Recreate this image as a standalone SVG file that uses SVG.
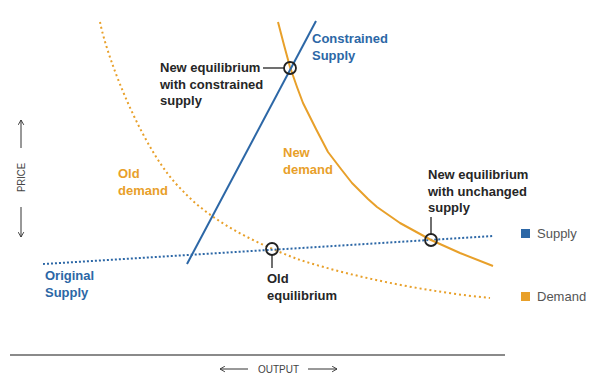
<svg xmlns="http://www.w3.org/2000/svg" width="599" height="390" viewBox="0 0 599 390">
<defs>
<style>
.lbl{font-family:"Liberation Sans",Arial,sans-serif;font-weight:bold;font-size:13px}
.dark{fill:#262626}
.blue{fill:#2c67a6}
.orange{fill:#e8a02a}
.leg{font-family:"Liberation Sans",Arial,sans-serif;font-size:13px;fill:#555}
.ax{font-family:"Liberation Sans",Arial,sans-serif;font-size:11px;fill:#444}
.ring{fill:none;stroke:#222;stroke-width:1.8}
.tick{stroke:#222;stroke-width:1.3;fill:none}
.arr{stroke:#333;stroke-width:1;fill:none}
</style>
<marker id="ah" viewBox="0 0 10 10" refX="9" refY="5" markerWidth="7" markerHeight="7" markerUnits="userSpaceOnUse" orient="auto">
<path d="M2,1 L9,5 L2,9" fill="none" stroke="#333" stroke-width="1.3"/>
</marker>
</defs>
<rect width="599" height="390" fill="#fff"/>

<g id="axes">
<line x1="10" y1="355" x2="505" y2="355" stroke="#8a8a8a" stroke-width="2"/>
<line class="arr" x1="248" y1="369" x2="220" y2="369" marker-end="url(#ah)"/>
<line class="arr" x1="308" y1="369" x2="337" y2="369" marker-end="url(#ah)"/>
<text class="ax" x="258" y="373" textLength="41" lengthAdjust="spacingAndGlyphs">OUTPUT</text>
<line class="arr" x1="21" y1="148" x2="21" y2="120" marker-end="url(#ah)"/>
<line class="arr" x1="21" y1="207" x2="21" y2="237" marker-end="url(#ah)"/>
<text class="ax" transform="translate(25,192) rotate(-90)" x="0" y="0" textLength="29" lengthAdjust="spacingAndGlyphs">PRICE</text>
</g>

<g id="connectors">
<path id="old-demand" d="M100,22 C108,62 145,155 182,190 C212,223 260,245 300,260 C360,279 430,292 490,298" fill="none" stroke="#e8a02a" stroke-width="2" stroke-dasharray="2 3"/>
<path id="original-supply" d="M43,264 L494,236" fill="none" stroke="#2c67a6" stroke-width="2" stroke-dasharray="2 2"/>
<path id="new-demand" d="M278,22 L284,45 L290,67 L297,87 L303,103 L316,129 L328,152 L341,169 L352,183 L368,199 L377,207 L400,223 L431,240 L460,253 L493,266" fill="none" stroke="#e8a02a" stroke-width="2" stroke-linejoin="round"/>
<path id="constrained-supply" d="M187,264 L316,21" fill="none" stroke="#2c67a6" stroke-width="2"/>
<line class="tick" x1="263" y1="68" x2="284" y2="68"/>
<line class="tick" x1="272" y1="255" x2="272" y2="268"/>
<line class="tick" x1="431" y1="217" x2="431" y2="234"/>
</g>

<g id="eq-constrained">
<circle class="ring" cx="290" cy="68" r="6"/>
<text class="lbl dark" x="160"><tspan x="160" y="72">New equilibrium</tspan><tspan x="160" y="88.5">with constrained</tspan><tspan x="160" y="105">supply</tspan></text>
</g>
<g id="eq-old">
<circle class="ring" cx="272" cy="249" r="6"/>
<text class="lbl dark"><tspan x="267" y="283">Old</tspan><tspan x="267" y="299.5">equilibrium</tspan></text>
</g>
<g id="eq-unchanged">
<circle class="ring" cx="431" cy="240" r="6"/>
<text class="lbl dark"><tspan x="428" y="179">New equilibrium</tspan><tspan x="428" y="195.5">with unchanged</tspan><tspan x="428" y="212">supply</tspan></text>
</g>
<g id="label-constrained-supply">
<text class="lbl blue"><tspan x="312" y="43">Constrained</tspan><tspan x="312" y="59.5">Supply</tspan></text>
</g>
<g id="label-new-demand">
<text class="lbl orange"><tspan x="283" y="157">New</tspan><tspan x="283" y="173.5">demand</tspan></text>
</g>
<g id="label-old-demand">
<text class="lbl orange"><tspan x="118" y="178">Old</tspan><tspan x="118" y="194.5">demand</tspan></text>
</g>
<g id="label-original-supply">
<text class="lbl blue"><tspan x="45" y="280">Original</tspan><tspan x="45" y="296.5">Supply</tspan></text>
</g>
<g id="legend-supply">
<rect x="521" y="229" width="9" height="9" fill="#2c67a6"/>
<text class="leg" x="537" y="238">Supply</text>
</g>
<g id="legend-demand">
<rect x="521" y="292" width="9" height="9" fill="#e8a02a"/>
<text class="leg" x="537" y="301">Demand</text>
</g>
</svg>
